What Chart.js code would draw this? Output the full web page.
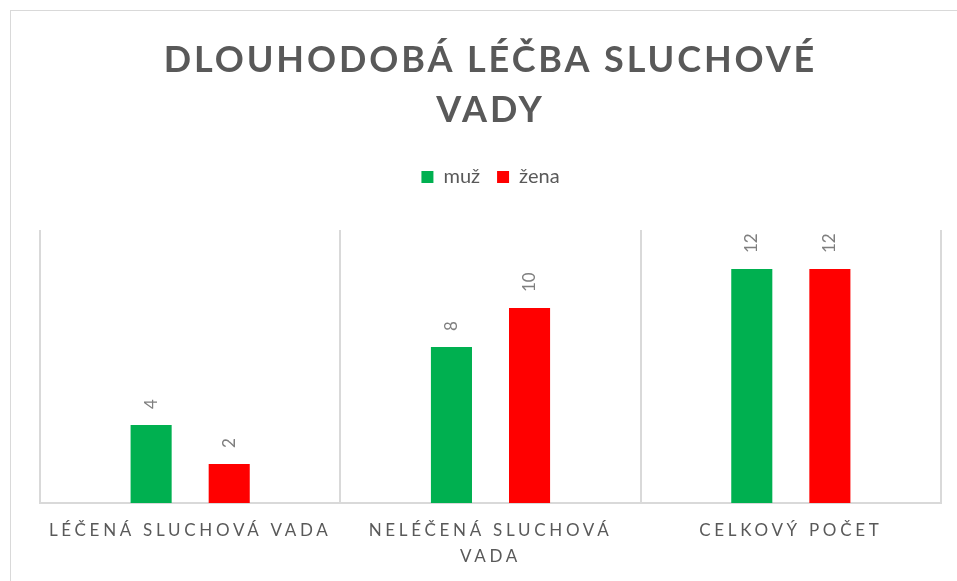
<!DOCTYPE html>
<html>
<head>
<meta charset="utf-8">
<script src="https://cdn.jsdelivr.net/npm/chart.js@4"></script>
<style>
  body { margin: 0; background: #fff; overflow: hidden; }
  #ramecek { position: absolute; left: 10px; top: 10px; width: 957px; height: 600px; border: 1px solid #d9d9d9; }
  #graf { display: block; }
</style>
</head>
<body>
<div id="ramecek"><canvas id="graf" width="957" height="570"></canvas></div>
<script>
var kategorie = ['LÉČENÁ SLUCHOVÁ VADA', ['NELÉČENÁ SLUCHOVÁ', 'VADA'], 'CELKOVÝ POČET']
var hodnotyMuz = [4, 8, 12]
var hodnotyZena = [2, 10, 12]
var nazvySerii = ['muž', 'žena']
var barvy = ['#00b050', '#ff0000']

// letter spacing for title and axis labels (canvas letterSpacing)
function sRozpalem(obj, jmeno, rozpal) {
    if (obj[jmeno]._rozpal) return
    var puvodni = obj[jmeno]
    var f = function () {
        var ctx = this.ctx
        var pred = ctx.letterSpacing
        ctx.letterSpacing = rozpal
        puvodni.apply(this, arguments)
        ctx.letterSpacing = pred || '0px'
    }
    f._rozpal = true
    obj[jmeno] = f
}

var rozpalPlugin = {
    id: 'rozpal',
    afterLayout: function (chart) {
        sRozpalem(chart.titleBlock, 'draw', '2.9px')
        sRozpalem(chart.scales.x, 'drawLabels', '3.7px')
    }
}

// rotated value labels above bars
var popiskyPlugin = {
    id: 'popisky',
    afterDatasetsDraw: function (chart) {
        var ctx = chart.ctx
        chart.data.datasets.forEach(function (ds, i) {
            var meta = chart.getDatasetMeta(i)
            meta.data.forEach(function (bar, j) {
                ctx.save()
                ctx.translate(bar.x, bar.y - 16)
                ctx.rotate(-Math.PI / 2)
                ctx.font = '17px Lato'
                ctx.fillStyle = '#7f7f7f'
                ctx.textAlign = 'left'
                ctx.textBaseline = 'middle'
                ctx.fillText(String(ds.data[j]), 0, 0)
                ctx.restore()
            })
        })
    }
}

var ctx = document.getElementById('graf').getContext('2d')

new Chart(ctx, {
    type: 'bar',
    data: {
        labels: kategorie,
        datasets: [{
            label: nazvySerii[0],
            data: hodnotyMuz,
            backgroundColor: barvy[0]
        }, {
            label: nazvySerii[1],
            data: hodnotyZena,
            backgroundColor: barvy[1]
        }]
    },
    options: {
        responsive: false,
        animation: false,
        devicePixelRatio: 1,
        categoryPercentage: 0.52,
        barPercentage: 0.526,
        layout: { padding: { left: 29, right: 27, top: 0, bottom: 0 } },
        plugins: {
            title: {
                display: true,
                text: ['DLOUHODOBÁ LÉČBA SLUCHOVÉ', 'VADY'],
                color: '#595959',
                font: { family: 'Lato', size: 36, weight: 'bold', lineHeight: 50 / 36 },
                padding: { top: 24, bottom: 15 }
            },
            subtitle: {
                display: true,
                text: '',
                weight: 500,
                padding: 0,
                font: { size: 33, lineHeight: 1 }
            },
            legend: {
                position: 'top',
                labels: {
                    color: '#595959',
                    font: { family: 'Lato', size: 20 },
                    boxWidth: 12,
                    boxHeight: 12,
                    padding: 17
                }
            },
            tooltip: { enabled: false }
        },
        scales: {
            x: {
                grid: { color: '#d9d9d9', lineWidth: 2, drawTicks: false },
                border: { color: '#d9d9d9', width: 2 },
                ticks: {
                    color: '#595959',
                    font: { family: 'Lato', size: 17, lineHeight: 1.5 },
                    padding: 15,
                    maxRotation: 0,
                    autoSkip: false
                },
                afterFit: function (scale) { scale.height = 78 }
            },
            y: {
                display: false,
                min: 0,
                max: 14
            }
        }
    },
    plugins: [rozpalPlugin, popiskyPlugin]
})
</script>
</body>
</html>
